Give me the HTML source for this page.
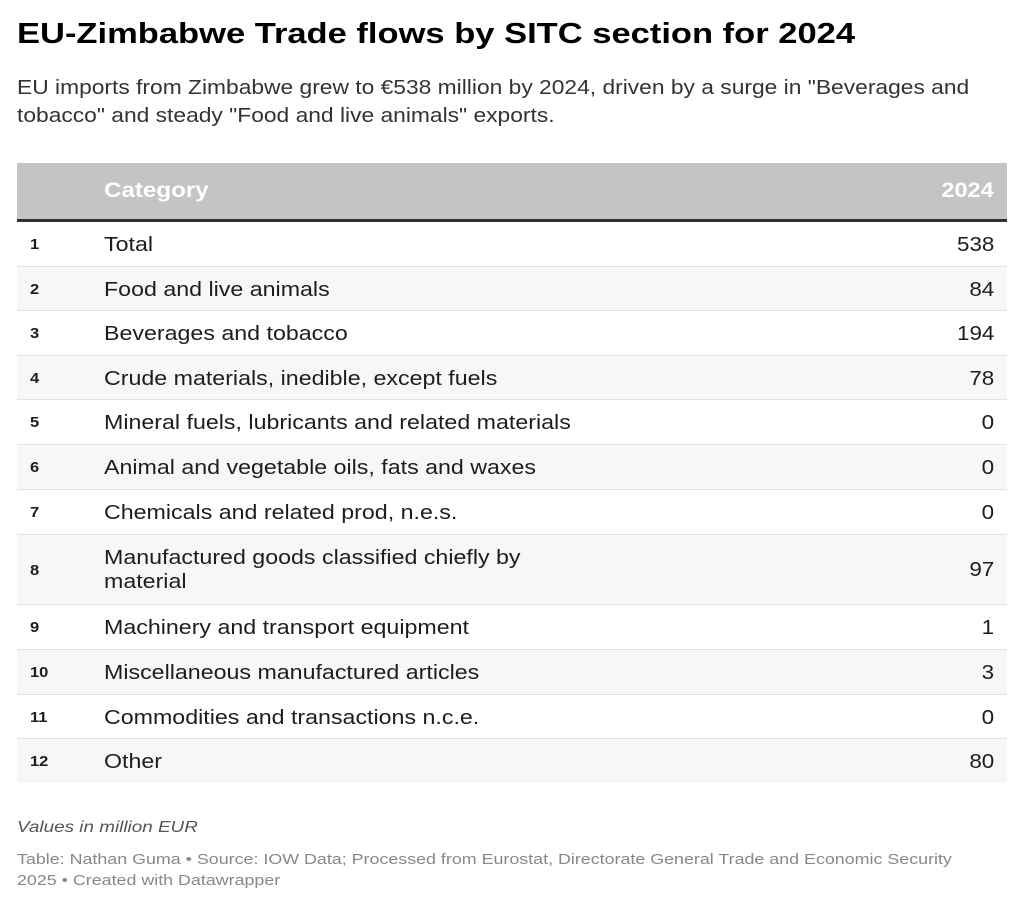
<!DOCTYPE html>
<html><head><meta charset="utf-8"><style>
body{margin:0;width:1024px;height:907px;background:#fff;font-family:"Liberation Sans",sans-serif;color:#1d1d1d;position:relative;overflow:hidden}
.a{position:absolute;white-space:nowrap;transform-origin:left top}
.row{position:absolute;left:17px;width:990px;border-bottom:1px solid #e2e2e2;box-sizing:border-box}
.row.alt{background:#f7f7f7}
.n{position:absolute;left:13px;font-size:15px;font-weight:bold;transform:scaleX(1.1);transform-origin:left top}
.c{position:absolute;left:87px;font-size:20px;line-height:24px;white-space:nowrap;transform:scaleX(1.16);transform-origin:left top}
.v{position:absolute;right:13px;font-size:20px;transform:scaleX(1.12);transform-origin:right top}
</style></head><body>
<div class="a" style="left:17px;top:18px;font-size:29px;font-weight:bold;color:#000;transform:scaleX(1.19)">EU-Zimbabwe Trade flows by SITC section for 2024</div>
<div class="a" style="left:17px;top:74px;font-size:20px;line-height:28px;color:#333;transform:scaleX(1.14)">EU imports from Zimbabwe grew to €538 million by 2024, driven by a surge in "Beverages and<br>tobacco" and steady "Food and live animals" exports.</div>
<div class="a" style="left:17px;top:163px;width:990px;height:56px;background:#c4c4c4;border-bottom:3px solid #333"></div>
<div class="a" style="left:104px;top:179px;font-size:21px;font-weight:bold;color:#fff;transform:scaleX(1.15)">Category</div>
<div class="a" style="right:30px;top:179px;font-size:21px;font-weight:bold;color:#fff;transform:scaleX(1.12);transform-origin:right top">2024</div>

<div class="row" style="top:222px;height:45px"><span class="n" style="top:14px">1</span><span class="c" style="top:11px">Total</span><span class="v" style="top:12px">538</span></div>
<div class="row alt" style="top:267px;height:44px"><span class="n" style="top:14px">2</span><span class="c" style="top:11px">Food and live animals</span><span class="v" style="top:12px">84</span></div>
<div class="row" style="top:311px;height:45px"><span class="n" style="top:14px">3</span><span class="c" style="top:11px">Beverages and tobacco</span><span class="v" style="top:12px">194</span></div>
<div class="row alt" style="top:356px;height:44px"><span class="n" style="top:14px">4</span><span class="c" style="top:11px">Crude materials, inedible, except fuels</span><span class="v" style="top:12px">78</span></div>
<div class="row" style="top:400px;height:45px"><span class="n" style="top:14px">5</span><span class="c" style="top:11px">Mineral fuels, lubricants and related materials</span><span class="v" style="top:12px">0</span></div>
<div class="row alt" style="top:445px;height:45px"><span class="n" style="top:14px">6</span><span class="c" style="top:11px">Animal and vegetable oils, fats and waxes</span><span class="v" style="top:12px">0</span></div>
<div class="row" style="top:490px;height:45px"><span class="n" style="top:14px">7</span><span class="c" style="top:11px">Chemicals and related prod, n.e.s.</span><span class="v" style="top:12px">0</span></div>
<div class="row alt" style="top:535px;height:70px"><span class="n" style="top:27px">8</span><span class="c" style="top:11px">Manufactured goods classified chiefly by<br>material</span><span class="v" style="top:24px">97</span></div>
<div class="row" style="top:605px;height:45px"><span class="n" style="top:14px">9</span><span class="c" style="top:11px">Machinery and transport equipment</span><span class="v" style="top:12px">1</span></div>
<div class="row alt" style="top:650px;height:45px"><span class="n" style="top:14px">10</span><span class="c" style="top:11px">Miscellaneous manufactured articles</span><span class="v" style="top:12px">3</span></div>
<div class="row" style="top:695px;height:44px"><span class="n" style="top:14px">11</span><span class="c" style="top:11px">Commodities and transactions n.c.e.</span><span class="v" style="top:12px">0</span></div>
<div class="row alt" style="top:739px;height:44px;border-bottom:none"><span class="n" style="top:14px">12</span><span class="c" style="top:11px">Other</span><span class="v" style="top:12px">80</span></div>

<div class="a" style="left:17px;top:819px;font-size:16px;font-style:italic;color:#555;transform:scaleX(1.18)">Values in million EUR</div>
<div class="a" style="left:17px;top:849px;font-size:15px;line-height:21px;color:#888;transform:scaleX(1.19)">Table: Nathan Guma • Source: IOW Data; Processed from Eurostat, Directorate General Trade and Economic Security<br>2025 • Created with Datawrapper</div>
</body></html>
